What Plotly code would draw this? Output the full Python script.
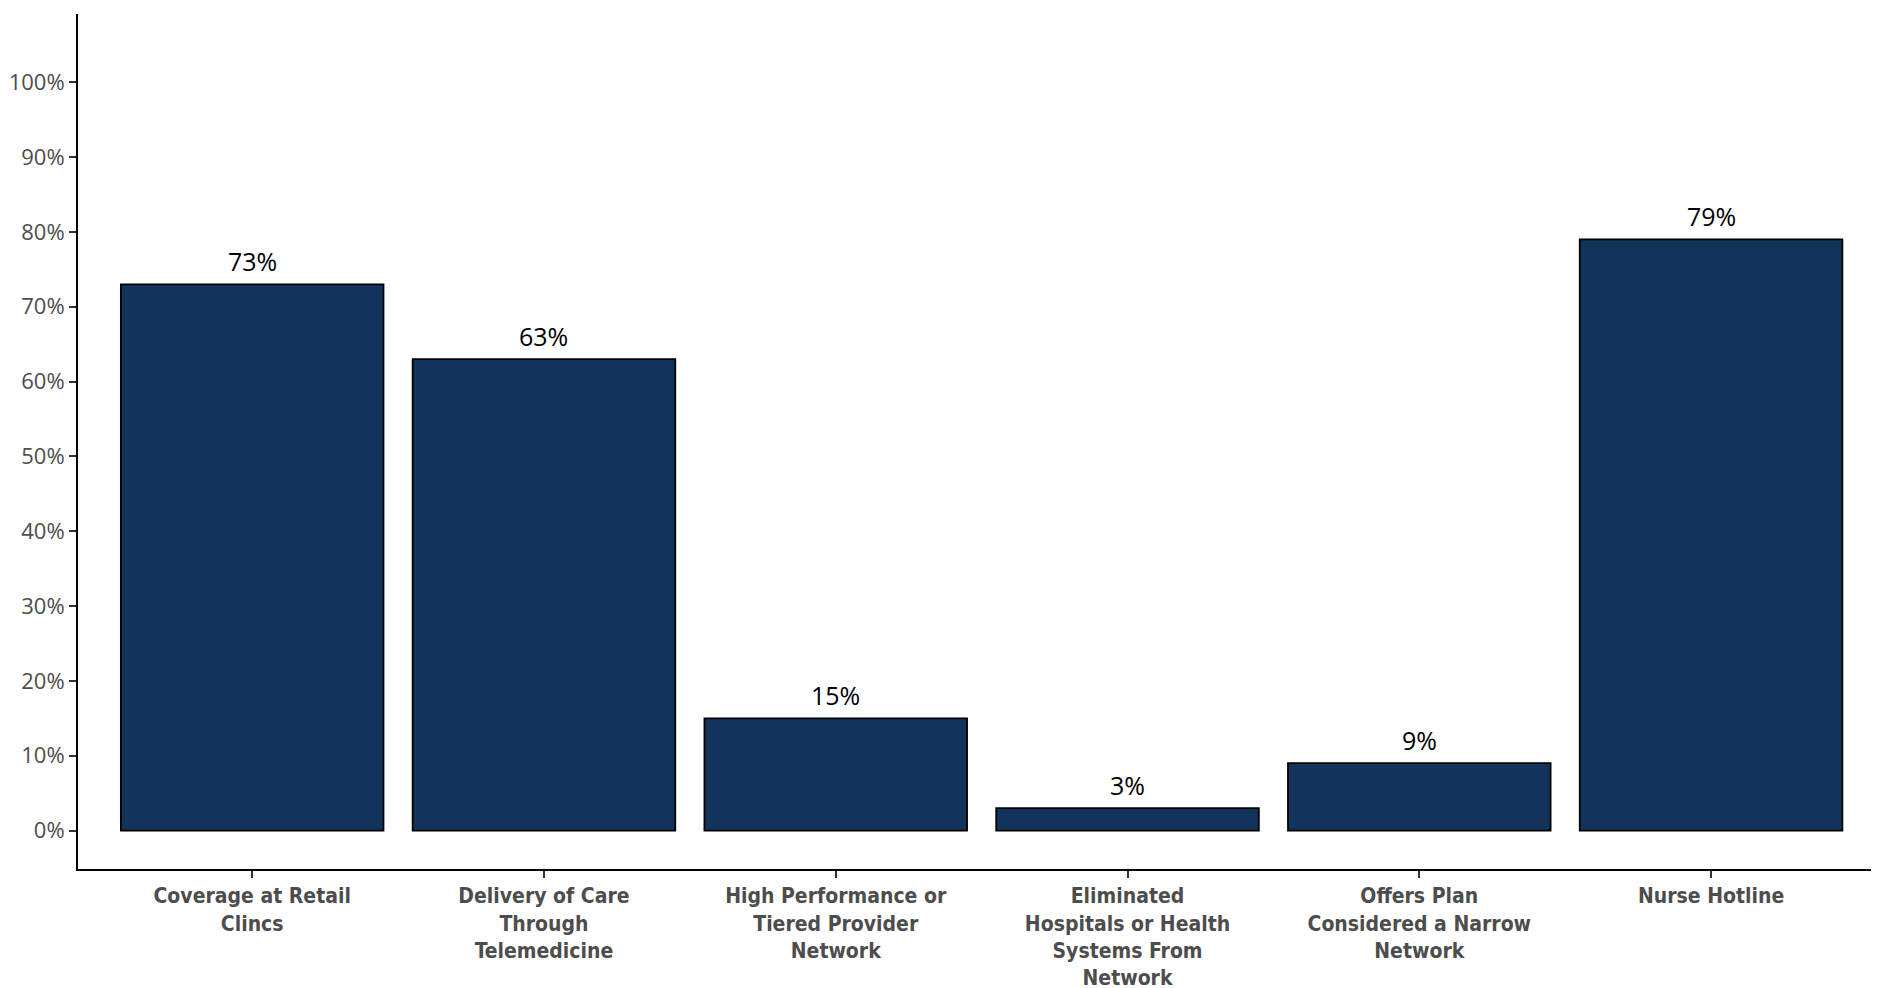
import plotly.graph_objects as go

categories = [
    "Coverage at Retail<br>Clincs",
    "Delivery of Care<br>Through<br>Telemedicine",
    "High Performance or<br>Tiered Provider<br>Network",
    "Eliminated<br>Hospitals or Health<br>Systems From<br>Network",
    "Offers Plan<br>Considered a Narrow<br>Network",
    "Nurse Hotline",
]
values = [73, 63, 15, 3, 9, 79]
labels = ["73%", "63%", "15%", "3%", "9%", "79%"]
y_ticks = [0, 10, 20, 30, 40, 50, 60, 70, 80, 90, 100]
y_tick_text = [f"{v}%" for v in y_ticks]

fig = go.Figure()
fig.add_trace(go.Bar(
    x=categories, y=values, width=0.9,
    marker=dict(color="#13345a", line=dict(color="#000000", width=1.8)),
    hoverinfo="skip",
))
for c, v, t in zip(categories, values, labels):
    fig.add_annotation(x=c, y=v, text=t, showarrow=False, yanchor="bottom",
                       yshift=4, font=dict(family="Open Sans", size=25, color="#000000"))

fig.update_layout(
    width=1879, height=980,
    margin=dict(l=70, r=0, t=6, b=119),
    plot_bgcolor="white", paper_bgcolor="white",
    showlegend=False,
    bargap=0.1,
)
fig.update_xaxes(
    range=[-0.597, 5.603], automargin=False,
    showline=True, linecolor="#000000", linewidth=2,
    ticks="outside", ticklen=7, tickwidth=1.5, tickcolor="#333333",
    tickfont=dict(family="DejaVu Sans Condensed, Roboto Condensed, Roboto", size=21,
                  weight="bold", color="#4d4d4d"),
    showgrid=False, zeroline=False,
)
fig.update_yaxes(
    range=[-5.14, 109.13], automargin=False,
    tickvals=y_ticks, ticktext=y_tick_text,
    showline=True, linecolor="#000000", linewidth=2,
    ticks="outside", ticklen=7, tickwidth=1.5, tickcolor="#333333",
    tickfont=dict(family="Open Sans", size=22, color="#4d4d4d"),
    showgrid=False, zeroline=False,
)
fig.write_html("out.html")
